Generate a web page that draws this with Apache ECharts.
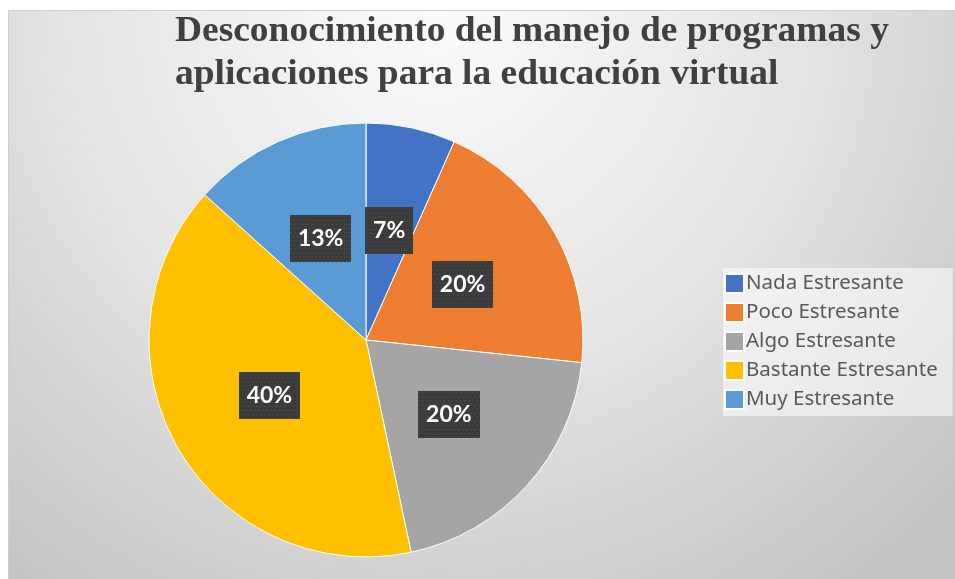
<!DOCTYPE html>
<html>
<head>
<meta charset="utf-8">
<script src="https://cdn.jsdelivr.net/npm/echarts@6/dist/echarts.min.js"></script>
<style>
  html, body { margin: 0; padding: 0; background: #fff; }
  #chart { width: 955px; height: 579px; }
</style>
</head>
<body>
<div id="chart"></div>
<script>
// datos (15 respuestas)
const categories = ['Nada Estresante', 'Poco Estresante', 'Algo Estresante', 'Bastante Estresante', 'Muy Estresante']
const counts = [1, 3, 3, 6, 2]
const titleLines = ['Desconocimiento del manejo de programas y', 'aplicaciones para la educación virtual']

const colors = ['#4472C4', '#ED7D31', '#A5A5A5', '#FFC000', '#5B9BD5']

// fondo punteado de las etiquetas
const dotBg = (w, h) => {
  const c = document.createElement('canvas')
  c.width = w
  c.height = h
  const ctx = c.getContext('2d')
  ctx.fillStyle = '#3b3b3b'
  ctx.fillRect(0, 0, w, h)
  ctx.fillStyle = '#575757'
  for (let y = 1; y < h; y += 4) {
    for (let x = (y % 8 === 1 ? 1 : 3); x < w; x += 4) {
      ctx.fillRect(x, y, 1, 1)
    }
  }
  return c
}
const labelBg = dotBg(60, 46)

const chart = echarts.init(document.getElementById('chart'))

chart.setOption({
  backgroundColor: '#fff',
  animation: false,
  graphic: [
    {
      type: 'rect',
      z: -10,
      silent: true,
      shape: { x: 8.5, y: 10.5, width: 950, height: 572 },
      style: {
        fill: {
          type: 'radial',
          x: 0.45,
          y: 0,
          r: 1.25,
          colorStops: [
            { offset: 0, color: '#fbfbfb' },
            { offset: 0.5, color: '#e5e5e5' },
            { offset: 1, color: '#c3c3c3' }
          ]
        },
        stroke: '#cfcfcf',
        lineWidth: 1
      }
    },
    {
      type: 'text',
      x: 175,
      y: 11,
      scaleX: 1.07,
      silent: true,
      style: {
        text: titleLines.join('\n'),
        font: 'bold 35px "Liberation Serif", serif',
        fill: '#404040',
        lineHeight: 42.4
      }
    }
  ],
  legend: {
    orient: 'vertical',
    left: 723,
    top: 268,
    backgroundColor: 'rgba(255,255,255,0.55)',
    padding: [5, 15, 6, 1],
    itemWidth: 19,
    itemHeight: 19,
    itemGap: 8,
    icon: 'rect',
    data: categories,
    textStyle: {
      fontFamily: 'Noto Sans',
      fontSize: 20.5,
      lineHeight: 19,
      color: '#595959',
      padding: [0, 0, 0, -3]
    }
  },
  series: [
    {
      type: 'pie',
      center: [366, 340],
      radius: 217,
      startAngle: 90,
      clockwise: true,
      percentPrecision: 0,
      itemStyle: {
        borderColor: '#ffffff',
        borderWidth: 1
      },
      label: {
        show: true,
        position: 'inside',
        formatter: '{d}%',
        fontFamily: 'Lato',
        fontWeight: 'bold',
        fontSize: 23,
        color: '#ffffff',
        backgroundColor: { image: labelBg },
        padding: [12, 8]
      },
      labelLine: { show: false },
      emphasis: { disabled: true },
      data: categories.map((name, i) => ({
        name,
        value: counts[i],
        itemStyle: { color: colors[i] }
      }))
    }
  ]
})
</script>
</body>
</html>
